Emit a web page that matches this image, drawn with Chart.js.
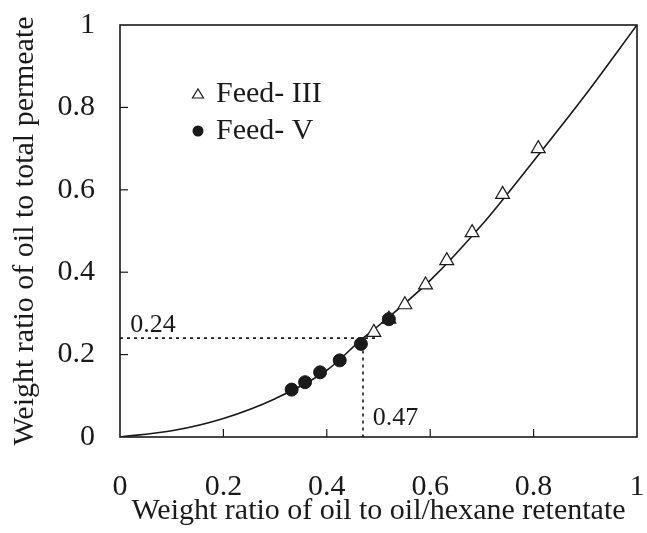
<!DOCTYPE html>
<html>
<head>
<meta charset="utf-8">
<script src="https://cdn.jsdelivr.net/npm/chart.js@4"></script>
<style>
  html, body { margin: 0; padding: 0; background: #fff; }
  #wrap { width: 647px; height: 533px; }
</style>
</head>
<body>
<div id="wrap"><canvas id="chart" width="647" height="533"></canvas></div>
<script>
// Fitted curve
const curveX = [0, 0.1, 0.2, 0.3, 0.4, 0.47, 0.5, 0.6, 0.7, 0.8, 0.9, 1];
const curveY = [0, 0.015, 0.045, 0.093, 0.162, 0.24, 0.27, 0.38, 0.515, 0.67, 0.83, 1];

// Feed-III (open triangles)
const feed3X = [0.491, 0.52, 0.551, 0.591, 0.632, 0.681, 0.740, 0.809];
const feed3Y = [0.254, 0.286, 0.321, 0.369, 0.428, 0.496, 0.589, 0.700];

// Feed-V (filled circles)
const feed5X = [0.332, 0.358, 0.387, 0.425, 0.466, 0.520];
const feed5Y = [0.115, 0.133, 0.157, 0.186, 0.226, 0.286];

// dotted guide lines
const guideH = { x: [0, 0.5], y: [0.24, 0.24] };
const guideV = { x: [0.47, 0.47], y: [0.21, 0] };

const ticks = [0, 0.2, 0.4, 0.6, 0.8, 1];

const pts = (xs, ys) => xs.map((x, i) => ({ x, y: ys[i] }));
const serif = '"Liberation Serif", "Times New Roman", serif';
const ink = '#1a1a1a';
const fmt = v => (v === 0 || v === 1) ? String(v) : v.toFixed(1);

// frame, inner tick marks, legend and annotations
const decorations = {
    id: 'decorations',
    afterDraw(chart) {
        const { ctx, chartArea: a, scales: { x, y } } = chart;
        ctx.save();
        ctx.strokeStyle = ink;
        ctx.lineWidth = 1.6;
        ctx.strokeRect(a.left, a.top, a.right - a.left, a.bottom - a.top);

        ctx.lineWidth = 1.2;
        ticks.slice(1, -1).forEach(v => {
            const px = x.getPixelForValue(v);
            ctx.beginPath();
            ctx.moveTo(px, a.bottom);
            ctx.lineTo(px, a.bottom - 8);
            ctx.stroke();
            const py = y.getPixelForValue(v);
            ctx.beginPath();
            ctx.moveTo(a.left, py);
            ctx.lineTo(a.left + 8, py);
            ctx.stroke();
        });

        // legend
        ctx.fillStyle = ink;
        ctx.font = '30px ' + serif;
        ctx.textBaseline = 'middle';
        ctx.textAlign = 'left';
        const lx = 198;
        ctx.lineWidth = 1.2;
        ctx.beginPath();
        ctx.moveTo(lx, 89);
        ctx.lineTo(lx + 5.5, 98);
        ctx.lineTo(lx - 5.5, 98);
        ctx.closePath();
        ctx.stroke();
        ctx.fillText('Feed- III', 216, 94);
        ctx.beginPath();
        ctx.arc(lx, 131, 5.5, 0, Math.PI * 2);
        ctx.fill();
        ctx.fillText('Feed- V', 216, 131);

        // annotations
        ctx.font = '26px ' + serif;
        ctx.textBaseline = 'alphabetic';
        ctx.fillText('0.24', x.getPixelForValue(0.02), y.getPixelForValue(0.255));
        ctx.fillText('0.47', x.getPixelForValue(0.489), y.getPixelForValue(0.03));
        ctx.restore();
    }
};

new Chart(document.getElementById('chart'), {
    type: 'scatter',
    data: {
        datasets: [
            {
                label: 'Feed- V',
                data: pts(feed5X, feed5Y),
                pointStyle: 'circle',
                pointRadius: 6.5,
                backgroundColor: ink,
                borderColor: ink,
                order: 0
            },
            {
                label: 'Feed- III',
                data: pts(feed3X, feed3Y),
                pointStyle: 'triangle',
                pointRadius: 8,
                backgroundColor: '#fff',
                borderColor: ink,
                borderWidth: 1.2,
                order: 1
            },
            {
                label: 'curve',
                data: pts(curveX, curveY),
                showLine: true,
                pointRadius: 0,
                borderColor: ink,
                borderWidth: 1.6,
                cubicInterpolationMode: 'monotone',
                order: 2
            },
            {
                label: 'h',
                data: pts(guideH.x, guideH.y),
                showLine: true,
                pointRadius: 0,
                borderColor: ink,
                borderWidth: 1.6,
                borderDash: [3, 4],
                order: 3
            },
            {
                label: 'v',
                data: pts(guideV.x, guideV.y),
                showLine: true,
                pointRadius: 0,
                borderColor: ink,
                borderWidth: 1.6,
                borderDash: [3, 4],
                order: 3
            }
        ]
    },
    options: {
        responsive: false,
        animation: false,
        layout: { padding: { top: 25, right: 10, left: 0, bottom: 0 } },
        plugins: {
            legend: { display: false },
            tooltip: { enabled: false }
        },
        scales: {
            x: {
                type: 'linear',
                min: 0,
                max: 1,
                afterFit: s => { s.height = 96; s.paddingLeft = 0; s.paddingRight = 0; },
                afterBuildTicks: s => { s.ticks = ticks.map(v => ({ value: v })); },
                grid: { display: false, drawTicks: false },
                border: { display: false },
                ticks: { color: ink, font: { family: serif, size: 30 }, padding: 32, maxRotation: 0, callback: fmt },
                title: {
                    display: true,
                    text: 'Weight ratio of oil to oil/hexane retentate',
                    color: ink,
                    font: { family: serif, size: 30 },
                    padding: { top: 0, bottom: 4 }
                }
            },
            y: {
                type: 'linear',
                min: 0,
                max: 1,
                afterFit: s => { s.width = 120; s.paddingTop = 0; s.paddingBottom = 0; },
                afterBuildTicks: s => { s.ticks = ticks.map(v => ({ value: v })); },
                grid: { display: false, drawTicks: false },
                border: { display: false },
                ticks: { color: ink, font: { family: serif, size: 30 }, padding: 25, callback: fmt },
                title: {
                    display: true,
                    text: 'Weight ratio of oil to total permeate',
                    color: ink,
                    font: { family: serif, size: 30 },
                    padding: { top: 7, bottom: 0 }
                }
            }
        }
    },
    plugins: [decorations]
});
</script>
</body>
</html>
